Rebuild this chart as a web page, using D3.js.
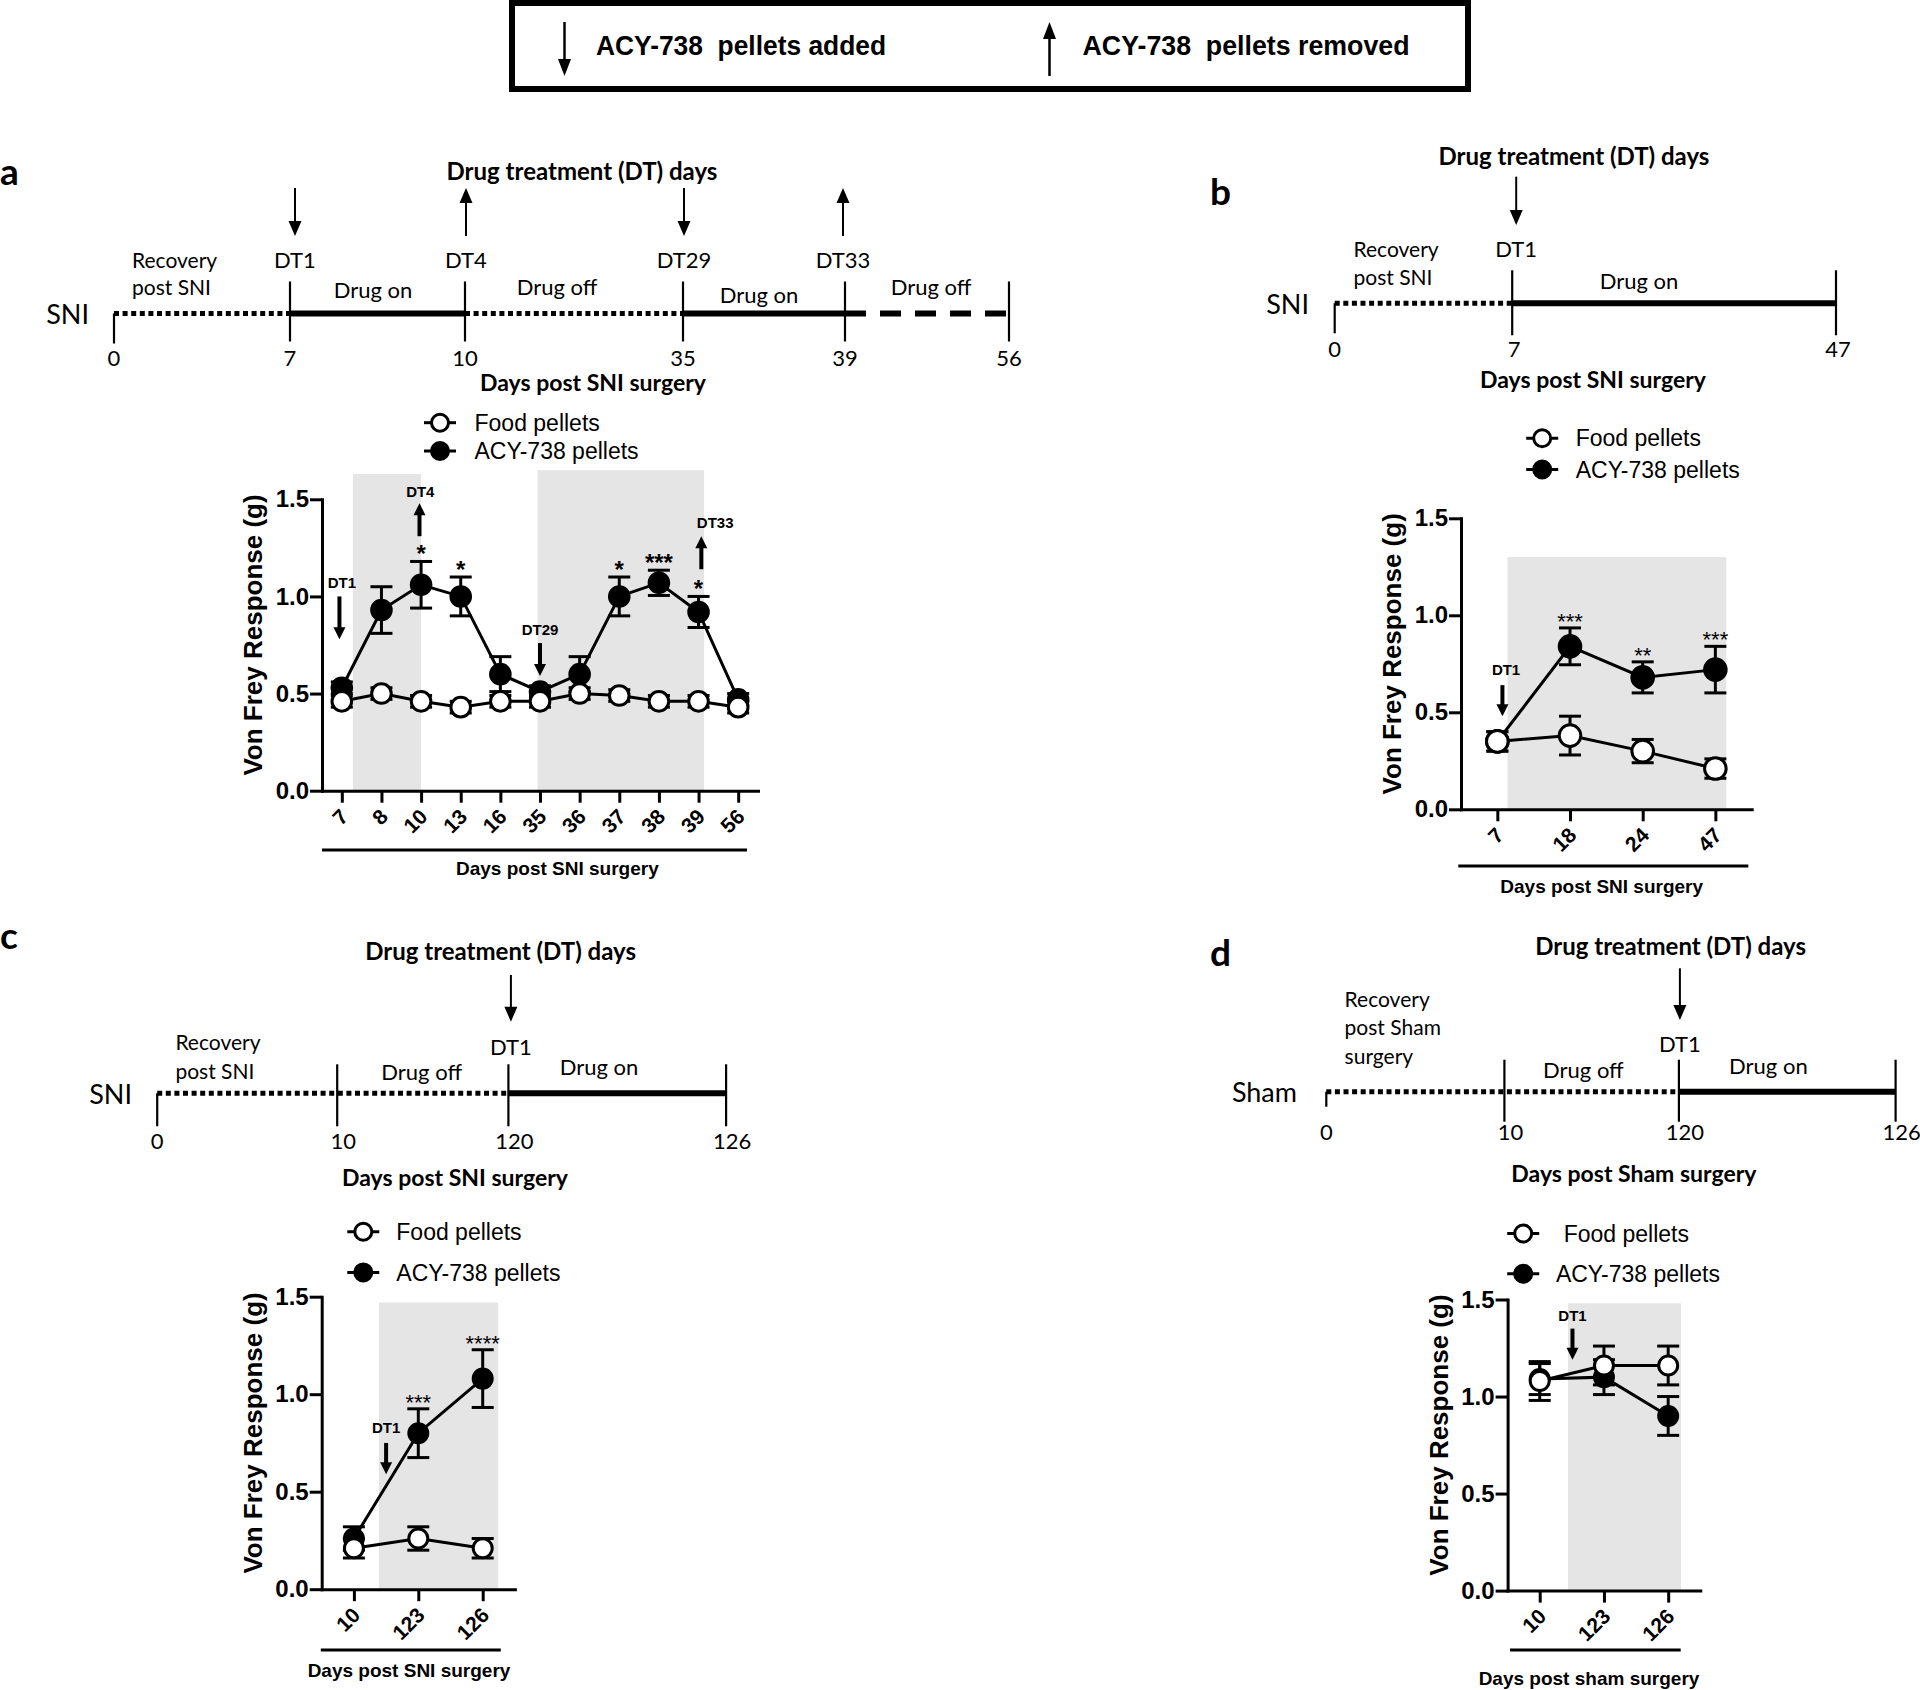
<!DOCTYPE html>
<html><head><meta charset="utf-8">
<script src="https://cdn.jsdelivr.net/npm/d3@7"></script>
<style>
body{margin:0;background:#fff;}
svg{display:block;}
</style></head><body>
<svg id="fig" width="1920" height="1690"></svg>
<script>
// ================= DATA =================
const keyLabels = ["ACY-738  pellets added", "ACY-738  pellets removed"];
const seriesNames = ["Food pellets", "ACY-738 pellets"];
const yTicks = [0, 0.5, 1.0, 1.5];
const yTitle = "Von Frey Response (g)";

// ---- Panel a ----
const aDays = ["7","8","10","13","16","35","36","37","38","39","56"];
const aFood = [0.46,0.50,0.46,0.43,0.46,0.46,0.50,0.49,0.46,0.46,0.43];
const aFoodErr = [0.03,0.03,0.03,0.03,0.03,0.03,0.03,0.03,0.03,0.03,0.03];
const aAcy = [0.53,0.93,1.06,1.00,0.60,0.51,0.60,1.00,1.07,0.92,0.47];
const aAcyErr = [0.03,0.12,0.12,0.10,0.09,0.03,0.09,0.10,0.065,0.08,0.03];
const aStars = ["","","*","*","","","","*","***","*",""];
const aBands = [[0.28,2.0,1.63],[4.94,9.14,1.65]];          // [from index, to index, top value]
const aNotes = [
  {label:"DT1",  idx:-0.06, textIdx:0.0,  textY:1.07, tail:1.00, head:0.78},
  {label:"DT4",  idx:1.96,  textIdx:1.98, textY:1.54, tail:1.31, head:1.48},
  {label:"DT29", idx:5.0,   textIdx:5.0,  textY:0.83, tail:0.76, head:0.59},
  {label:"DT33", idx:9.07,  textIdx:9.42, textY:1.38, tail:1.14, head:1.31}
];
const aTimeDays = [0,7,10,35,39,56];
const aSegments = [[0,7,"dot"],[7,10,"solid"],[10,35,"dot"],[35,39,"solid"],[39,56,"dash"]];
const aTimeMarks = [{day:7,label:"DT1",dir:"down"},{day:10,label:"DT4",dir:"up"},{day:35,label:"DT29",dir:"down"},{day:39,label:"DT33",dir:"up"}];
const aPhases = ["Drug on","Drug off","Drug on","Drug off"];
const aRecovery = ["Recovery","post SNI"];

// ---- Panel b ----
const bDays = ["7","18","24","47"];
const bFood = [0.35,0.38,0.30,0.21];
const bFoodErr = [0.05,0.10,0.06,0.05];
const bAcy = [0.35,0.84,0.68,0.72];
const bAcyErr = [0.05,0.095,0.08,0.12];
const bStars = ["","***","**","***"];
const bBands = [[0.14,3.15,1.30]];
const bNotes = [{label:"DT1", idx:0.07, textIdx:0.12, textY:0.72, tail:0.64, head:0.48}];
const bTimeDays = [0,7,47];
const bSegments = [[0,7,"dot"],[7,47,"solid"]];
const bTimeMarks = [{day:7,label:"DT1",dir:"down"}];
const bPhases = ["Drug on"];
const bRecovery = ["Recovery","post SNI"];

// ---- Panel c ----
const cDays = ["10","123","126"];
const cFood = [0.21,0.26,0.21];
const cFoodErr = [0.05,0.06,0.05];
const cAcy = [0.26,0.80,1.08];
const cAcyErr = [0.06,0.125,0.148];
const cStars = ["","***","****"];
const cBands = [[0.39,2.24,1.47]];
const cNotes = [{label:"DT1", idx:0.5, textIdx:0.5, textY:0.83, tail:0.75, head:0.59}];
const cTimeDays = [0,10,120,126];
const cSegments = [[0,120,"dot"],[120,126,"solid"]];
const cTimeMarks = [{day:120,label:"DT1",dir:"down"}];
const cPhases = ["Drug off","Drug on"];
const cRecovery = ["Recovery","post SNI"];

// ---- Panel d ----
const dDays = ["10","123","126"];
const dFood = [1.08,1.16,1.16];
const dFoodErr = [0.10,0.10,0.10];
const dAcy = [1.09,1.10,0.90];
const dAcyErr = [0.08,0.09,0.10];
const dStars = ["","",""];
const dBands = [[0.44,2.2,1.48]];
const dNotes = [{label:"DT1", idx:0.51, textIdx:0.51, textY:1.42, tail:1.35, head:1.19}];
const dTimeDays = [0,10,120,126];
const dSegments = [[0,120,"dot"],[120,126,"solid"]];
const dTimeMarks = [{day:120,label:"DT1",dir:"down"}];
const dPhases = ["Drug off","Drug on"];
const dRecovery = ["Recovery","post Sham","surgery"];

// ================= LAYOUT =================
const LATO = "Lato, 'Open Sans', sans-serif";
const ARIAL = "'Liberation Sans', Arial, sans-serif";

const timelineLayout = {
  a: {lineY:313.5, range:[114,290,465,683,845,1009], tick:[-32,28], zeroDown:30, labelY:357, labelDx:0,
      name:"SNI", nameX:89, recX:132, recY:[259,286], markY:259.5, arrowY:[188,236], markDx:[5,1,1,-2],
      phasePos:[[373,289],[557,286],[759,294],[931,286]], title:[582,170], xlab:[593,382], xlabText:"Days post SNI surgery"},
  b: {lineY:303.3, range:[1334.7,1512.2,1836], tick:[-33,32], zeroDown:30, labelY:348.5, labelDx:2,
      name:"SNI", nameX:1309, recX:1353.5, recY:[248.3,276.7], markY:248.3, arrowY:[176.7,225], markDx:[4],
      phasePos:[[1639,280]], title:[1574,155], xlab:[1593,379], xlabText:"Days post SNI surgery"},
  c: {lineY:1093.3, range:[157.2,337.2,508.4,726.1], tick:[-29,33], zeroDown:33, labelY:1140, labelDx:6,
      name:"SNI", nameX:132, recX:175.4, recY:[1041.7,1070], markY:1046, arrowY:[975,1021.7], markDx:[2.5],
      phasePos:[[421.7,1071.7],[599,1066.7]], title:[500.6,950], xlab:[455,1176.7], xlabText:"Days post SNI surgery"},
  d: {lineY:1091.7, range:[1326.3,1504.4,1678.9,1895.6], tick:[-32,30], zeroDown:15, labelY:1131.7, labelDx:6,
      name:"Sham", nameX:1297, recX:1344.6, recY:[998.3,1026.7,1055], markY:1043.3, arrowY:[968.3,1020], markDx:[1],
      phasePos:[[1583.4,1069.3],[1768.4,1065]], title:[1670.6,945], xlab:[1633.9,1173.3], xlabText:"Days post Sham surgery"}
};

const chartLayout = {
  a: {xRange:[322,758], y0:790.7, y15:499.3, r:9.8, starFont:24, starWeight:"bold",
      bracket:[322,747,850], xlab:[557.4,868.3], xlabText:"Days post SNI surgery",
      legend:{cx:440, y:[422.7,451], tx:[474.5,474.5]}},
  b: {xRange:[1461,1751.7], y0:809.3, y15:518.3, r:10.8, starFont:22, starWeight:"normal",
      bracket:[1458.3,1748.3,866], xlab:[1601.7,886.7], xlabText:"Days post SNI surgery",
      legend:{cx:1542.2, y:[438.2,469.5], tx:[1575.7,1575.7]}},
  c: {xRange:[321.7,514.9], y0:1589.2, y15:1296.7, r:9.5, starFont:22, starWeight:"normal",
      bracket:[320.8,500.8,1650], xlab:[409,1670.5], xlabText:"Days post SNI surgery",
      legend:{cx:363.3, y:[1231.8,1272.4], tx:[396.3,396.3]}},
  d: {xRange:[1507.6,1700.3], y0:1590.6, y15:1299.5, r:9.5, starFont:22, starWeight:"normal",
      bracket:[1510,1680.7,1650], xlab:[1589,1678.3], xlabText:"Days post sham surgery",
      legend:{cx:1523.2, y:[1233.5,1273.8], tx:[1563.7,1555.9]}}
};

// ================= DRAWING =================
const svg = d3.select("#fig");
svg.append("rect").attr("width",1920).attr("height",1690).attr("fill","#fff");

function arrow(g, x, yTail, yHead, o) {
  const dir = Math.sign(yHead - yTail);
  const baseY = yHead - dir * o.headL;
  g.append("line").attr("x1",x).attr("x2",x).attr("y1",yTail).attr("y2",baseY + dir)
    .attr("stroke","#000").attr("stroke-width",o.w);
  g.append("path").attr("d",`M${x-o.headW/2},${baseY}L${x+o.headW/2},${baseY}L${x},${yHead}Z`).attr("fill","#000");
}

// ---- key box ----
const key = svg.append("g");
key.append("rect").attr("x",512).attr("y",3).attr("width",956).attr("height",86)
  .attr("fill","none").attr("stroke","#000").attr("stroke-width",6);
arrow(key, 564.5, 22, 76, {w:2.5, headW:13, headL:17});
arrow(key, 1049.5, 76, 22, {w:2.5, headW:13, headL:17});
key.selectAll("text.k").data(keyLabels).join("text")
  .attr("x",(d,i)=> i===0 ? 596 : 1082.5).attr("y",55)
  .style("white-space","pre")
  .attr("font-family",ARIAL).attr("font-weight","bold").attr("font-size",28)
  .attr("textLength",(d,i)=> i===0 ? 290 : 327).attr("lengthAdjust","spacingAndGlyphs")
  .text(d=>d);

// ---- panel letters ----
[["a",0,185],["b",1210,204.5],["c",0,949],["d",1210,966]].forEach(([t,x,y])=>{
  svg.append("text").attr("x",x).attr("y",y).attr("font-family",LATO).attr("font-weight","bold")
    .attr("font-size",37).text(t);
});

// ---- timeline ----
function drawTimeline(L, days, segments, marks, phases, recovery) {
  const g = svg.append("g");
  const x = d3.scaleLinear().domain(days).range(L.range);
  const styles = {
    dot:   {w:5, dash:"5,3.6"},
    solid: {w:6, dash:null},
    dash:  {w:6, dash:"21,14"}
  };
  segments.forEach(([a,b,s])=>{
    g.append("line").attr("x1",x(a)).attr("x2",x(b)).attr("y1",L.lineY).attr("y2",L.lineY)
      .attr("stroke","#000").attr("stroke-width",styles[s].w)
      .attr("stroke-dasharray",styles[s].dash);
  });
  days.forEach((d,i)=>{
    const up = i===0 ? 0 : L.tick[0];
    const dn = i===0 ? L.zeroDown : L.tick[1];
    g.append("line").attr("x1",x(d)).attr("x2",x(d)).attr("y1",L.lineY+up).attr("y2",L.lineY+dn)
      .attr("stroke","#000").attr("stroke-width",2.2);
    g.append("text").attr("x",x(d)+ (i===0?0:L.labelDx)).attr("y",L.labelY).attr("text-anchor","middle")
      .attr("dominant-baseline","central").attr("font-family",LATO).attr("font-size",22).text(d);
  });
  g.append("text").attr("x",L.nameX).attr("y",L.lineY).attr("text-anchor","end")
    .attr("dominant-baseline","central").attr("font-family",LATO).attr("font-size",27).text(L.name);
  recovery.forEach((t,i)=>{
    g.append("text").attr("x",L.recX).attr("y",L.recY[i]).attr("dominant-baseline","central")
      .attr("font-family",LATO).attr("font-size",21).text(t);
  });
  marks.forEach((m,i)=>{
    const mx = x(m.day) + (L.markDx[i]||0);
    if (m.dir==="down") arrow(g, mx, L.arrowY[0], L.arrowY[1], {w:2, headW:13, headL:15});
    else arrow(g, mx, L.arrowY[1], L.arrowY[0], {w:2, headW:13, headL:15});
    g.append("text").attr("x",mx).attr("y",L.markY).attr("text-anchor","middle")
      .attr("dominant-baseline","central").attr("font-family",LATO).attr("font-size",22).text(m.label);
  });
  phases.forEach((t,i)=>{
    g.append("text").attr("x",L.phasePos[i][0]).attr("y",L.phasePos[i][1]).attr("text-anchor","middle")
      .attr("dominant-baseline","central").attr("font-family",LATO).attr("font-size",22).text(t);
  });
  g.append("text").attr("x",L.title[0]).attr("y",L.title[1]).attr("text-anchor","middle")
    .attr("dominant-baseline","central").attr("font-family",LATO).attr("font-weight","bold")
    .attr("font-size",24).text("Drug treatment (DT) days");
  g.append("text").attr("x",L.xlab[0]).attr("y",L.xlab[1]).attr("text-anchor","middle")
    .attr("dominant-baseline","central").attr("font-family",LATO).attr("font-weight","bold")
    .attr("font-size",23).text(L.xlabText);
}

// ---- chart ----
function drawChart(L, days, food, foodErr, acy, acyErr, stars, bands, notes) {
  const g = svg.append("g");
  const x = d3.scalePoint().domain(days).range(L.xRange).padding(0.5);
  const y = d3.scaleLinear().domain([0,1.5]).range([L.y0, L.y15]);
  const x0 = x(days[0]), step = x.step();
  const xi = i => x0 + i*step;

  g.selectAll("rect.band").data(bands).join("rect").attr("class","band")
    .attr("x",d=>xi(d[0])).attr("width",d=>xi(d[1])-xi(d[0]))
    .attr("y",d=>y(d[2])).attr("height",d=>y(0)-y(d[2])).attr("fill","#e5e5e5");

  const yAxis = d3.axisLeft(y).tickValues(yTicks).tickFormat(d3.format(".1f"))
    .tickSize(12).tickSizeOuter(0).tickPadding(1);
  const ya = g.append("g").attr("transform",`translate(${L.xRange[0]},0)`).call(yAxis);
  ya.select(".domain").attr("stroke-width",3).attr("stroke-linecap","square");
  ya.selectAll(".tick line").attr("stroke-width",3);
  ya.selectAll(".tick text").attr("font-family",ARIAL).attr("font-weight","bold").attr("font-size",24).attr("fill","#000");

  const xAxis = d3.axisBottom(x).tickSize(12).tickSizeOuter(0);
  const xa = g.append("g").attr("transform",`translate(0,${L.y0})`).call(xAxis);
  xa.select(".domain").attr("stroke-width",3).attr("stroke-linecap","square");
  xa.selectAll(".tick line").attr("stroke-width",3);
  xa.selectAll(".tick text").attr("x",0).attr("y",0).attr("dx",0).attr("dy","0.35em")
    .attr("text-anchor","end").attr("transform","translate(2,22) rotate(-45)")
    .attr("font-family",ARIAL).attr("font-weight","bold").attr("font-size",21).attr("fill","#000");

  // y title
  g.append("text").attr("transform",`translate(${L.xRange[0]-69},${(L.y0+L.y15)/2 - 10}) rotate(-90)`)
    .attr("text-anchor","middle").attr("dominant-baseline","central")
    .attr("font-family",ARIAL).attr("font-weight","bold").attr("font-size",26).text(yTitle);

  // bracket + label
  g.append("line").attr("x1",L.bracket[0]).attr("x2",L.bracket[1]).attr("y1",L.bracket[2]).attr("y2",L.bracket[2])
    .attr("stroke","#000").attr("stroke-width",3);
  g.append("text").attr("x",L.xlab[0]).attr("y",L.xlab[1]).attr("text-anchor","middle")
    .attr("dominant-baseline","central").attr("font-family",ARIAL).attr("font-weight","bold")
    .attr("font-size",19).text(L.xlabText);

  const series = [
    {vals:acy, errs:acyErr, fill:"#000"},
    {vals:food, errs:foodErr, fill:"#fff"}
  ];
  const line = d3.line().x((d,i)=>x(days[i])).y(d=>y(d));
  series.forEach(s=>{
    g.append("path").attr("d",line(s.vals)).attr("fill","none").attr("stroke","#000").attr("stroke-width",3);
    s.vals.forEach((v,i)=>{
      const cx = x(days[i]), e = s.errs[i];
      const eg = g.append("g").attr("stroke","#000").attr("stroke-width",3);
      eg.append("line").attr("x1",cx).attr("x2",cx).attr("y1",y(v+e)).attr("y2",y(v-e));
      eg.append("line").attr("x1",cx-11).attr("x2",cx+11).attr("y1",y(v+e)).attr("y2",y(v+e));
      eg.append("line").attr("x1",cx-11).attr("x2",cx+11).attr("y1",y(v-e)).attr("y2",y(v-e));
    });
    g.selectAll(null).data(s.vals).join("circle")
      .attr("cx",(d,i)=>x(days[i])).attr("cy",d=>y(d)).attr("r",L.r)
      .attr("fill",s.fill).attr("stroke","#000").attr("stroke-width",3);
  });

  // significance stars
  stars.forEach((t,i)=>{
    if (!t) return;
    g.append("text").attr("x",x(days[i])).attr("y",y(acy[i]+acyErr[i]) + 1)
      .attr("text-anchor","middle").attr("font-family",ARIAL).attr("font-weight",L.starWeight)
      .attr("font-size",L.starFont).text(t);
  });

  // DT notes
  notes.forEach(n=>{
    arrow(g, xi(n.idx), y(n.tail), y(n.head), {w:4, headW:12, headL:12});
    g.append("text").attr("x",xi(n.textIdx)).attr("y",y(n.textY)).attr("text-anchor","middle")
      .attr("dominant-baseline","central").attr("font-family",ARIAL).attr("font-weight","bold")
      .attr("font-size",15).text(n.label);
  });

  // legend
  const lg = L.legend;
  seriesNames.forEach((name,i)=>{
    const yy = lg.y[i];
    g.append("line").attr("x1",lg.cx-16).attr("x2",lg.cx+16).attr("y1",yy).attr("y2",yy)
      .attr("stroke","#000").attr("stroke-width",3);
    g.append("circle").attr("cx",lg.cx).attr("cy",yy).attr("r",8.5)
      .attr("fill", i===0 ? "#fff" : "#000").attr("stroke","#000").attr("stroke-width",3);
    g.append("text").attr("x",lg.tx[i]).attr("y",yy+8.2).attr("font-family",ARIAL)
      .attr("font-size",23).text(name);
  });
}

drawTimeline(timelineLayout.a, aTimeDays, aSegments, aTimeMarks, aPhases, aRecovery);
drawTimeline(timelineLayout.b, bTimeDays, bSegments, bTimeMarks, bPhases, bRecovery);
drawTimeline(timelineLayout.c, cTimeDays, cSegments, cTimeMarks, cPhases, cRecovery);
drawTimeline(timelineLayout.d, dTimeDays, dSegments, dTimeMarks, dPhases, dRecovery);

drawChart(chartLayout.a, aDays, aFood, aFoodErr, aAcy, aAcyErr, aStars, aBands, aNotes);
drawChart(chartLayout.b, bDays, bFood, bFoodErr, bAcy, bAcyErr, bStars, bBands, bNotes);
drawChart(chartLayout.c, cDays, cFood, cFoodErr, cAcy, cAcyErr, cStars, cBands, cNotes);
drawChart(chartLayout.d, dDays, dFood, dFoodErr, dAcy, dAcyErr, dStars, dBands, dNotes);
</script>
</body></html>
